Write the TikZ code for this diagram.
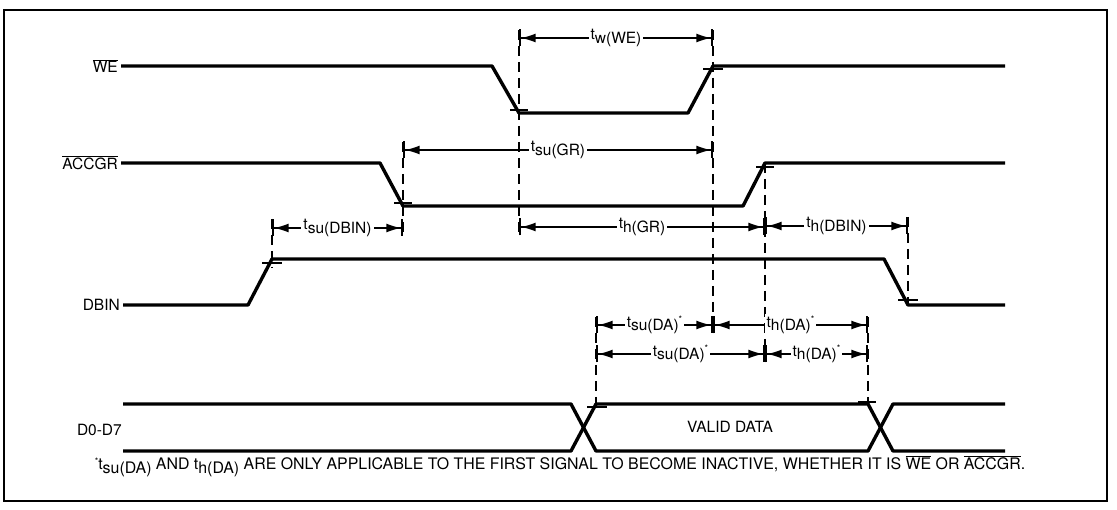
\documentclass[tikz,border=0pt]{standalone}
\usepackage{fontspec}
\setmainfont{TeX Gyre Heros}
\usetikzlibrary{arrows.meta}
\newcommand{\tsub}[1]{t\raisebox{-0.45ex}{#1}}
\newcommand{\ovl}[1]{$\overline{\hbox{#1}}$}
\newcommand{\starmark}{\raisebox{0.55ex}{\small *}}

\begin{document}
\begin{tikzpicture}[x=1pt,y=-1pt,
  sig/.style={line width=3.4pt,line join=round},
  dim/.style={line width=1.7pt,{Bar[width=17pt]Latex[length=15pt,width=9pt]}-{Latex[length=15pt,width=9pt]Bar[width=17pt]}},
  guide/.style={line width=1.7pt,dash pattern=on 10pt off 6pt},
  tickmark/.style={line width=1.7pt},
  lbl/.style={fill=white,inner sep=2pt,font=\fontsize{15.5}{18}\selectfont},
  signame/.style={anchor=east,inner sep=0pt,font=\fontsize{15.5}{18}\selectfont}]
\useasboundingbox (0,0) rectangle (1117,510);
\draw[line width=1.8pt] (4,10) rectangle (1107,501);

% signal names
\node[signame] (we) at (118,66) {\ovl{WE}};
\node[signame] (accgr) at (118,163) {\ovl{ACCGR}};
\node[signame] (dbin) at (120,305) {DBIN};
\node[signame] (data) at (122,430) {D0-D7};

% waveforms
\draw[sig] (we.east) ++(3,0) -- (492,66) -- (519,113) -- (688,113) -- (713,66) -- (1005,66);
\draw[sig] (accgr.east) ++(3,0) -- (380,163) -- (403,206) -- (743,206) -- (765,163) -- (1005,163);
\draw[sig] (dbin.east) ++(3,0) -- (248,305) -- (272,259) -- (884,259) -- (908,305) -- (1005,305);
\draw[sig] (123,404) -- (571,404) -- (596,451) -- (868,451) -- (893,404) -- (1005,404);
\draw[sig] (123,451) -- (571,451) -- (596,404) -- (868,404) -- (893,451) -- (1005,451);
\node[signame,anchor=center] (valid) at (730,427) {VALID DATA};

% reference lines
\draw[guide] (519,30) -- (519,237);
\draw[guide] (713,30) -- (713,333);
\draw[guide] (403,142) -- (403,237);
\draw[guide] (765,163) -- (765,362);
\draw[guide] (272,219) -- (272,268);
\draw[guide] (908,217) -- (908,306);
\draw[guide] (596,317) -- (596,412);
\draw[guide] (868,317) -- (868,405);
\draw[tickmark] (510,110) -- (528,110)
  (703,69) -- (723,69)
  (394,203) -- (412,203)
  (756,167) -- (774,167)
  (262,263) -- (282,263)
  (898,300) -- (918,300)
  (587,407) -- (607,407)
  (858,402) -- (876,402);

% timing
\draw[dim] (519,38) -- node[lbl] (twwe) {\tsub{w(WE)}} (713,38);
\draw[dim] (403,150) -- node[lbl] (tsugr) {\tsub{su(GR)}} (713,150);
\draw[dim] (272,228) -- node[lbl] (tsudbin) {\tsub{su(DBIN)}} (403,228);
\draw[dim] (519,227) -- node[lbl] (thgr) {\tsub{h(GR)}} (765,227);
\draw[dim] (765,226) -- node[lbl] (thdbin) {\tsub{h(DBIN)}} (908,226);
\draw[dim] (596,325) -- node[lbl] (tsuda) {\tsub{su(DA)}\starmark} (713,325);
\draw[dim] (713,325) -- node[lbl] (thda) {\tsub{h(DA)}\starmark} (868,325);
\draw[dim] (596,354) -- node[lbl] (tsudab) {\tsub{su(DA)}\starmark} (765,354);
\draw[dim] (765,354) -- node[lbl] (thdab) {\tsub{h(DA)}\starmark} (868,354);

\node[signame,anchor=center,font=\fontsize{15.9}{18}\selectfont] (note) at (560,466) {\starmark\tsub{su(DA)} AND \tsub{h(DA)} ARE ONLY APPLICABLE TO THE FIRST SIGNAL TO BECOME INACTIVE, WHETHER IT IS \ovl{WE} OR \ovl{ACCGR}.};
\end{tikzpicture}
\end{document}
